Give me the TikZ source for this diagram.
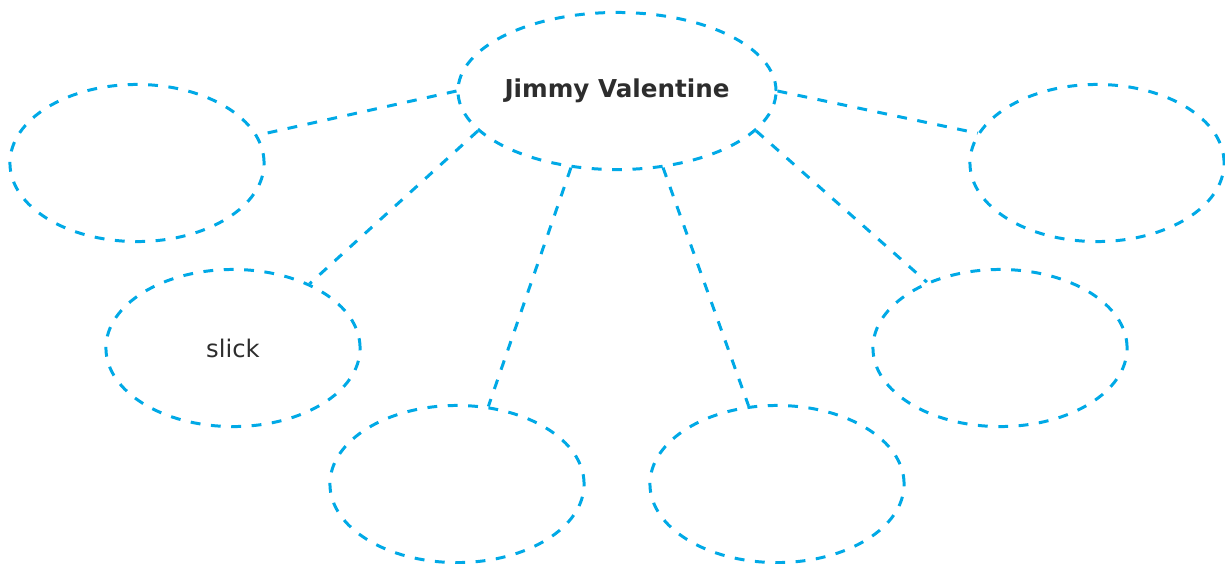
\documentclass[tikz,border=0pt]{standalone}
\usepackage{fontspec}
\setmainfont{DejaVu Sans}
\usetikzlibrary{shapes,positioning}
\definecolor{webblue}{RGB}{0,169,230}
\definecolor{inkgray}{RGB}{45,45,45}
\tikzset{
  bubble/.style = {
    ellipse,
    draw=webblue,
    line width=0.85pt,
    dash pattern=on 2.8pt off 3pt,
    minimum width=2.54cm,
    minimum height=1.57cm,
    inner sep=0pt,
    text=inkgray
  },
  hub/.style = {
    bubble,
    minimum width=3.17cm,
    font=\bfseries\fontsize{7}{8}\selectfont
  },
  spoke/.style = {
    draw=webblue,
    line width=0.85pt,
    dash pattern=on 2.8pt off 3pt
  }
}
\begin{document}
\begin{tikzpicture}[x=0.01cm, y=-0.01cm]
\useasboundingbox (0,0) rectangle (1225,563);

% Zentrale Figur
\node[hub] (main) at (617,91) {Jimmy Valentine};

% Eigenschaften
\node[bubble] (topleft) at (137,163) {};
\node[bubble] (topright) at (1097,163) {};
\node[bubble, font=\fontsize{6.9}{8}\selectfont] (midleft) at (233,348) {slick};
\node[bubble] (midright) at (1000,348) {};
\node[bubble] (botleft) at (457,484) {};
\node[bubble] (botright) at (777,484) {};

% Verbindungen
\draw[spoke] (main.180) -- (topleft.13);
\draw[spoke] (main.196) -- (midleft.40);
\draw[spoke] (main.239) -- (botleft.68);
\draw[spoke] (main.301) -- (botright.110);
\draw[spoke] (main.344) -- (midright.138);
\draw[spoke] (main.0) -- (topright.166);

\end{tikzpicture}
\end{document}
